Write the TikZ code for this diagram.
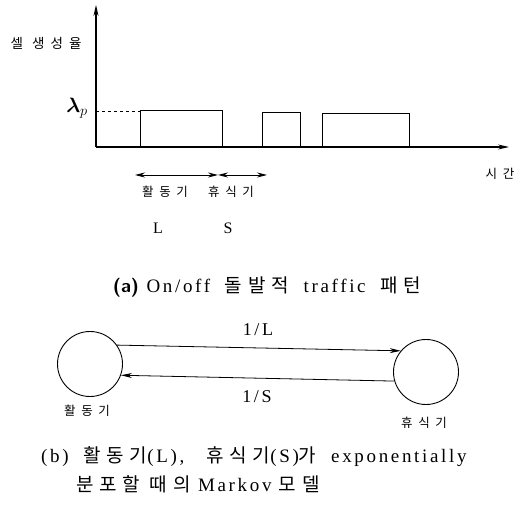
\documentclass[tikz,border=0pt]{standalone}
\usepackage{bm}
\usepackage{fontspec}
\setmainfont{Liberation Serif}
\newfontfamily\kor[LetterSpace=45]{Noto Sans CJK KR}
\newfontfamily\korc[LetterSpace=30]{Noto Sans CJK KR}
\newfontfamily\lat[LetterSpace=14]{Liberation Serif}
\usetikzlibrary{arrows.meta}
\tikzset{
  axis/.style={line width=1.2pt,-{Stealth[length=11pt,width=5pt]}},
  pulse/.style={line width=1pt},
  dbl/.style={line width=0.9pt,{Stealth[length=10pt,width=5pt]}-{Stealth[length=10pt,width=5pt]}},
  klab/.style={font=\kor\fontsize{12.5}{14}\selectfont, inner sep=1pt},
  ylabst/.style={font=\kor\fontsize{13.5}{15}\selectfont, inner sep=1pt},
  llab/.style={font=\fontsize{16}{18}\selectfont, inner sep=1pt},
  rlab/.style={font=\lat\fontsize{18}{20}\selectfont, inner sep=1pt},
  lamst/.style={font=\fontsize{20}{22}\selectfont, inner sep=1pt},
  captxt/.style={font=\lat\fontsize{19}{21}\selectfont, inner sep=1pt},
  state/.style={circle,draw,line width=0.9pt,minimum size=65pt,inner sep=0pt},
  trans/.style={line width=0.8pt,-{Stealth[length=11pt,width=5pt]}}
}
\begin{document}
\begin{tikzpicture}[x=1pt,y=-1pt]
\useasboundingbox (0,0) rectangle (520,505);
% (a) axes
\coordinate (O) at (96,147);
\coordinate (Ytop) at (96,5);
\coordinate (Xend) at (509,147);
\coordinate (lam) at (96,111);
\draw[axis] (O) -- (Ytop);
\draw[axis] (O) -- (Xend);
\draw[dashed,line width=0.9pt] (lam) -- (140,111);
% pulses
\draw[pulse] (140,147) -- (140,111) -- (222,111) -- (222,147);
\draw[pulse] (262,147) -- (262,113) -- (300,113) -- (300,147);
\draw[pulse] (322,147) -- (322,114) -- (409,114) -- (409,147);
% duration arrows
\coordinate (d1) at (135,175);
\coordinate (d2) at (218,175);
\coordinate (d3) at (267,175);
\draw[dbl] (d1) -- (d2);
\draw[dbl] (d2) -- (d3);
% labels (a)
\node[ylabst] (ylab) at (46,43) {셀 생성율};
\node[lamst] (lamlab) at (77,108) {$\bm{\lambda}_{p}$};
\node[klab] (tlab) at (500,174) {시간};
\node[klab] (on) at (165,192) {활동기};
\node[klab] (off) at (231,192) {휴식기};
\node[llab] (L) at (158,228) {L};
\node[llab] (S) at (228,228) {S};
\node[captxt] (capa) at (267,287) {{\sffamily\bfseries (a)} On/off\ \ {\korc 돌발적}\ \ traffic\ \ {\korc 패턴}};
% (b) Markov model
\node[state] (A) at (90,364) {};
\node[state] (B) at (426,372) {};
\draw[trans] (A.35) -- (B.140);
\draw[trans] (B.196) -- (A.-20);
\node[rlab] (lL) at (258,330) {1/L};
\node[rlab] (lS) at (257,397) {1/S};
\node[klab] (Alab) at (87,411) {활동기};
\node[klab] (Blab) at (424,423) {휴식기};
\node[captxt,anchor=west] (capb1) at (40,457) {(b)\ \ {\korc 활동기}(L),\ \ \ {\korc 휴식기}(S){\korc 가}\ \ exponentially};
\node[captxt,anchor=west] (capb2) at (75,484) {{\korc 분포할 때의} Markov {\korc 모델}};
\end{tikzpicture}
\end{document}
